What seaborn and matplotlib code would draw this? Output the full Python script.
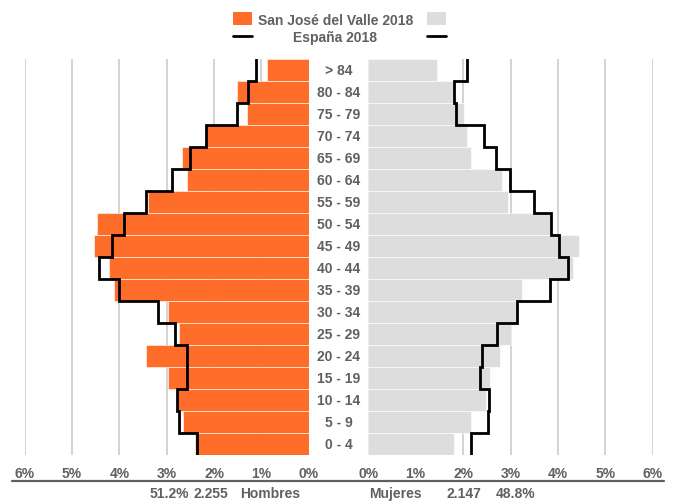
import numpy as np
import pandas as pd
import seaborn as sns
import matplotlib.pyplot as plt
import matplotlib.transforms as mtransforms
from matplotlib.patches import Rectangle
from matplotlib.lines import Line2D

sns.set_style("white")
plt.rcParams['font.family'] = ['Liberation Sans', 'DejaVu Sans']
plt.rcParams['font.weight'] = 'bold'

# data (% of total population)
edades = ['> 84', '80 - 84', '75 - 79', '70 - 74', '65 - 69', '60 - 64', '55 - 59',
          '50 - 54', '45 - 49', '40 - 44', '35 - 39', '30 - 34', '25 - 29',
          '20 - 24', '15 - 19', '10 - 14', '5 - 9', '0 - 4']
hombres = [0.89, 1.52, 1.30, 2.16, 2.67, 2.57, 3.40, 4.48, 4.53, 4.22, 4.11, 2.97,
           2.74, 3.43, 2.98, 2.79, 2.65, 2.40]
mujeres = [1.46, 1.79, 2.02, 2.08, 2.17, 2.83, 2.95, 3.83, 4.44, 4.31, 3.24, 3.13,
           3.02, 2.78, 2.57, 2.48, 2.17, 1.81]
espana_h = [1.12, 1.29, 1.52, 2.16, 2.51, 2.88, 3.43, 3.90, 4.15, 4.43, 4.00, 3.19,
            2.83, 2.57, 2.57, 2.78, 2.74, 2.37]
espana_m = [2.09, 1.81, 1.84, 2.45, 2.69, 2.99, 3.50, 3.86, 4.02, 4.21, 3.83, 3.13,
            2.72, 2.39, 2.36, 2.55, 2.53, 2.17]
ticks = [0, 1, 2, 3, 4, 5, 6]
tick_labels = ['0%', '1%', '2%', '3%', '4%', '5%', '6%']
totales = {'h_pct': '51.2%', 'h_n': '2.255', 'm_n': '2.147', 'm_pct': '48.8%'}

df = pd.DataFrame({'edad': edades, 'hombres': hombres, 'mujeres': mujeres})

NARANJA = '#ff6d2b'
GRIS = '#dddddd'
TEXTO = '#606060'

fig = plt.figure(figsize=(6.75, 5.02), dpi=100)
ax_h = fig.add_axes([0.0366, 0.0916, 0.4207, 0.7884])
ax_m = fig.add_axes([0.5456, 0.0916, 0.4214, 0.7884])

sns.barplot(data=df, x='hombres', y='edad', order=edades, color=NARANJA, saturation=1,
            width=1, edgecolor='white', linewidth=0.4, ax=ax_h)
sns.barplot(data=df, x='mujeres', y='edad', order=edades, color=GRIS, saturation=1,
            width=1, edgecolor='white', linewidth=0.4, ax=ax_m)


def escalon(ax, valores):
    xs, ys = [], []
    for i, v in enumerate(valores):
        xs += [v, v]
        ys += [i - 0.5, i + 0.5]
    ax.plot(xs, ys, color='black', lw=2, solid_joinstyle='miter', zorder=5)


escalon(ax_h, espana_h)
escalon(ax_m, espana_m)

ax_h.set_xlim(6, 0)
ax_m.set_xlim(0, 6)
for ax in (ax_h, ax_m):
    ax.set_ylim(len(edades) - 0.5, -0.5)
    ax.set_xticks(ticks)
    ax.set_xticklabels(tick_labels, fontsize=10, fontweight='bold', color=TEXTO)
    ax.tick_params(axis='x', length=0, pad=8)
    ax.set_yticks([])
    ax.set_xlabel('')
    ax.set_ylabel('')
    ax.xaxis.grid(True, color='#c8c8c8', lw=1.1)
    ax.set_axisbelow(True)
    for s in ax.spines.values():
        s.set_visible(False)

# age labels in the centre gap
trans = mtransforms.blended_transform_factory(ax_h.transAxes, ax_h.transData)
for i, e in enumerate(edades):
    ax_h.text(1.105, i, e, transform=trans, ha='center', va='center',
              fontsize=10, fontweight='bold', color=TEXTO)

# bottom rule and totals
fig.add_artist(Line2D([0.018, 0.984], [0.0405, 0.0405], color=TEXTO, lw=1.6))
yb = 0.002
kw = dict(ha='left', va='bottom', fontsize=10, color=TEXTO, fontweight='bold')
fig.text(0.222, yb, totales['h_pct'], **kw)
fig.text(0.286, yb, totales['h_n'], **kw)
fig.text(0.356, yb, 'Hombres', **kw)
fig.text(0.547, yb, 'Mujeres', **kw)
fig.text(0.662, yb, totales['m_n'], **kw)
fig.text(0.735, yb, totales['m_pct'], **kw)

# legend
fig.add_artist(Rectangle((0.345, 0.948), 0.028, 0.026, transform=fig.transFigure,
                         facecolor=NARANJA, edgecolor='none'))
fig.add_artist(Rectangle((0.633, 0.948), 0.028, 0.026, transform=fig.transFigure,
                         facecolor=GRIS, edgecolor='none'))
fig.add_artist(Line2D([0.345, 0.373], [0.927, 0.927], color='black', lw=2))
fig.add_artist(Line2D([0.633, 0.661], [0.927, 0.927], color='black', lw=2))
fig.text(0.497, 0.959, 'San José del Valle 2018', ha='center', va='center',
         fontsize=10, fontweight='bold', color=TEXTO)
fig.text(0.497, 0.925, 'España 2018', ha='center', va='center',
         fontsize=10, fontweight='bold', color=TEXTO)

fig.savefig('out.png', dpi=100)
